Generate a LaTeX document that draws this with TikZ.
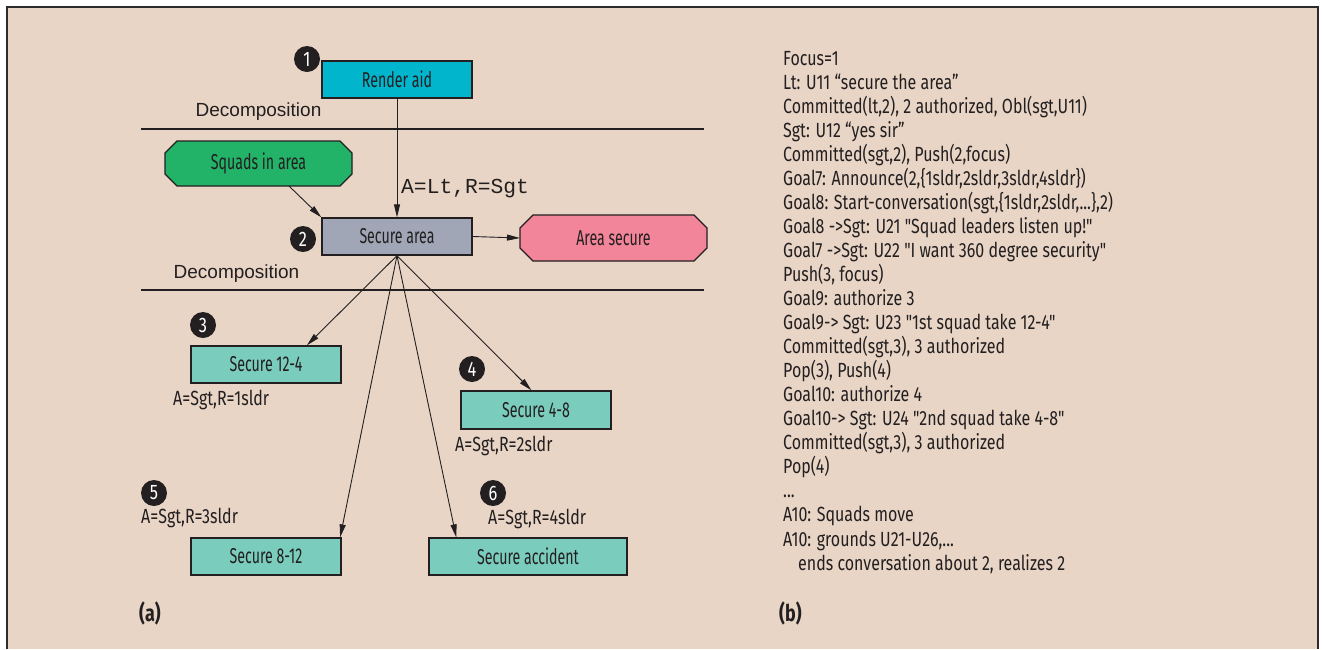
\documentclass[tikz,border=0pt]{standalone}
\usepackage{fontspec}
\setmainfont{Liberation Sans}
\newfontfamily\cond{Fira Sans}[FakeStretch=0.78]
\newfontfamily\condn{Fira Sans}[FakeStretch=0.66]
\newfontfamily\monof{Liberation Mono}
\newfontfamily\helv{Liberation Sans}
\usetikzlibrary{arrows.meta,calc}
\definecolor{bg}{RGB}{232,213,198}
\definecolor{frame}{RGB}{45,42,42}
\definecolor{cyanbox}{RGB}{0,181,204}
\definecolor{greenbox}{RGB}{34,178,104}
\definecolor{graybox}{RGB}{160,166,181}
\definecolor{pinkbox}{RGB}{242,133,153}
\definecolor{tealbox}{RGB}{122,204,189}
\definecolor{ink}{RGB}{35,31,32}
\begin{document}
\begin{tikzpicture}[x=1pt,y=-1pt,
  box/.style={draw=ink,line width=1.3pt,inner sep=0pt,font=\condn\fontsize{21.5}{22}\selectfont,text=ink},
  ctext/.style={inner sep=0pt,font=\condn\fontsize{21.5}{22}\selectfont,text=ink},
  numc/.style={circle,fill=ink,text=white,inner sep=0pt,minimum size=26pt,font=\cond\fontsize{21}{21}\selectfont},
  lab/.style={inner sep=0pt,font=\cond\fontsize{20.5}{20}\selectfont,text=ink},
  decomp/.style={inner sep=0pt,font=\helv\fontsize{19}{20}\selectfont,text=ink},
  rtext/.style={inner sep=0pt,anchor=base west,font=\cond\fontsize{20.5}{24}\selectfont,text=ink},
  sub/.style={inner sep=0pt,font=\cond\bfseries\fontsize{23}{22}\selectfont,text=ink},
  arr/.style={draw=ink,line width=0.9pt,-{Triangle[length=13pt,width=6pt]}},
  rule/.style={draw=ink,line width=2.2pt}]
\useasboundingbox (0,0) rectangle (1322,649);
\fill[white] (0,0) rectangle (1322,649);
\fill[bg] (7,7) rectangle (1318,649);
\draw[frame,line width=2pt] (7,649) -- (7,7) -- (1318,7) -- (1318,649);

% rules and decomposition labels
\coordinate (l1a) at (141,129); \coordinate (l1b) at (704,129);
\coordinate (l2a) at (141,290); \coordinate (l2b) at (704,290);
\draw[rule] (l1a) -- (l1b);
\draw[rule] (l2a) -- (l2b);
\node[decomp] (dec1) at (258.5,112) {Decomposition};
\node[decomp] (dec2) at (236.5,274) {Decomposition};

% chamfered shapes
\fill[greenbox,draw=ink,line width=1.3pt] (177,141) -- (340,141) -- (352,153) -- (352,174) -- (340,186) -- (177,186) -- (165,174) -- (165,153) -- cycle;
\node[ctext] (sq) at (258.5,163.5) {Squads in area};
\fill[pinkbox,draw=ink,line width=1.3pt] (533,215) -- (694,215) -- (707,228) -- (707,248) -- (694,261) -- (533,261) -- (520,248) -- (520,228) -- cycle;
\node[ctext] (as) at (613.5,238) {Area secure};
\coordinate (asw) at (520,238);
\coordinate (sqs) at (289,186);

% boxes
\node[box,fill=cyanbox,minimum width=150pt,minimum height=37pt] (ra) at (397,79.5) {Render aid};
\node[box,fill=graybox,minimum width=150pt,minimum height=37pt] (sa) at (397,236.5) {Secure area};
\node[box,fill=tealbox,minimum width=150pt,minimum height=37pt] (s124) at (266,364.5) {Secure 12-4};
\node[box,fill=tealbox,minimum width=150pt,minimum height=38pt] (s48) at (536,410) {Secure 4-8};
\node[box,fill=tealbox,minimum width=150pt,minimum height=37pt] (s812) at (266,556.5) {Secure 8-12};
\node[box,fill=tealbox,minimum width=198pt,minimum height=37pt] (sacc) at (528,556.5) {Secure accident};

% number circles
\node[numc] (n1) at (307,59) {1};
\node[numc] (n2) at (303,239) {2};
\node[numc] (n3) at (203,325) {3};
\node[numc] (n4) at (472,369) {4};
\node[numc] (n5) at (154,493) {5};
\node[numc] (n6) at (493,493) {6};

% labels
\node[inner sep=0pt,anchor=west,font=\monof\fontsize{21.3}{22}\selectfont,text=ink] (alt) at (401,189) {A=Lt,R=Sgt};
\node[lab,anchor=west] (l1) at (173,400) {A=Sgt,R=1sldr};
\node[lab,anchor=west] (l2) at (455,446) {A=Sgt,R=2sldr};
\node[lab,anchor=west] (l3) at (141,518) {A=Sgt,R=3sldr};
\node[lab,anchor=west] (l4) at (488,519) {A=Sgt,R=4sldr};

% connectors
\draw[arr] (ra.south) -- (sa.north);
\draw[arr] (sqs) -- (sa.north west);
\draw[arr] (sa.east) -- (asw);
\draw[arr] (sa.south) -- ($(s124.north west)!0.77!(s124.north east)$);
\draw[arr] (sa.south) -- ($(s48.north west)!0.47!(s48.north east)$);
\draw[arr] (sa.south) -- ($(s812.north west)!0.99!(s812.north east)$);
\draw[arr] (sa.south) -- ($(sacc.north west)!0.14!(sacc.north east)$);

% sub captions
\node[sub,anchor=west] (capa) at (139,613) {(a)};
\node[sub,anchor=west] (capb) at (779,613) {(b)};

% right column
\node[rtext] (r0) at (783,65) {Focus=1};
\node[rtext] (r1) at (783,89.05) {Lt: U11 “secure the area”};
\node[rtext] (r2) at (783,113.1) {Committed(lt,2), 2 authorized, Obl(sgt,U11)};
\node[rtext] (r3) at (783,137.15) {Sgt: U12 “yes sir”};
\node[rtext] (r4) at (783,161.2) {Committed(sgt,2), Push(2,focus)};
\node[rtext] (r5) at (783,185.25) {Goal7: Announce(2,\{1sldr,2sldr,3sldr,4sldr\})};
\node[rtext] (r6) at (783,209.3) {Goal8: Start-conversation(sgt,\{1sldr,2sldr,...\},2)};
\node[rtext] (r7) at (783,233.35) {Goal8 ->Sgt: U21 "Squad leaders listen up!"};
\node[rtext] (r8) at (783,257.4) {Goal7 ->Sgt: U22 "I want 360 degree security"};
\node[rtext] (r9) at (783,281.45) {Push(3, focus)};
\node[rtext] (r10) at (783,305.5) {Goal9: authorize 3};
\node[rtext] (r11) at (783,329.55) {Goal9-> Sgt: U23 "1st squad take 12-4"};
\node[rtext] (r12) at (783,353.6) {Committed(sgt,3), 3 authorized};
\node[rtext] (r13) at (783,377.65) {Pop(3), Push(4)};
\node[rtext] (r14) at (783,401.7) {Goal10: authorize 4};
\node[rtext] (r15) at (783,425.75) {Goal10-> Sgt: U24 "2nd squad take 4-8"};
\node[rtext] (r16) at (783,449.8) {Committed(sgt,3), 3 authorized};
\node[rtext] (r17) at (783,473.85) {Pop(4)};
\node[rtext] (r18) at (783,497.9) {...};
\node[rtext] (r19) at (783,521.95) {A10: Squads move};
\node[rtext] (r20) at (783,546) {A10: grounds U21-U26,...};
\node[rtext] (r21) at (798,570.05) {ends conversation about 2, realizes 2};
\end{tikzpicture}
\end{document}
